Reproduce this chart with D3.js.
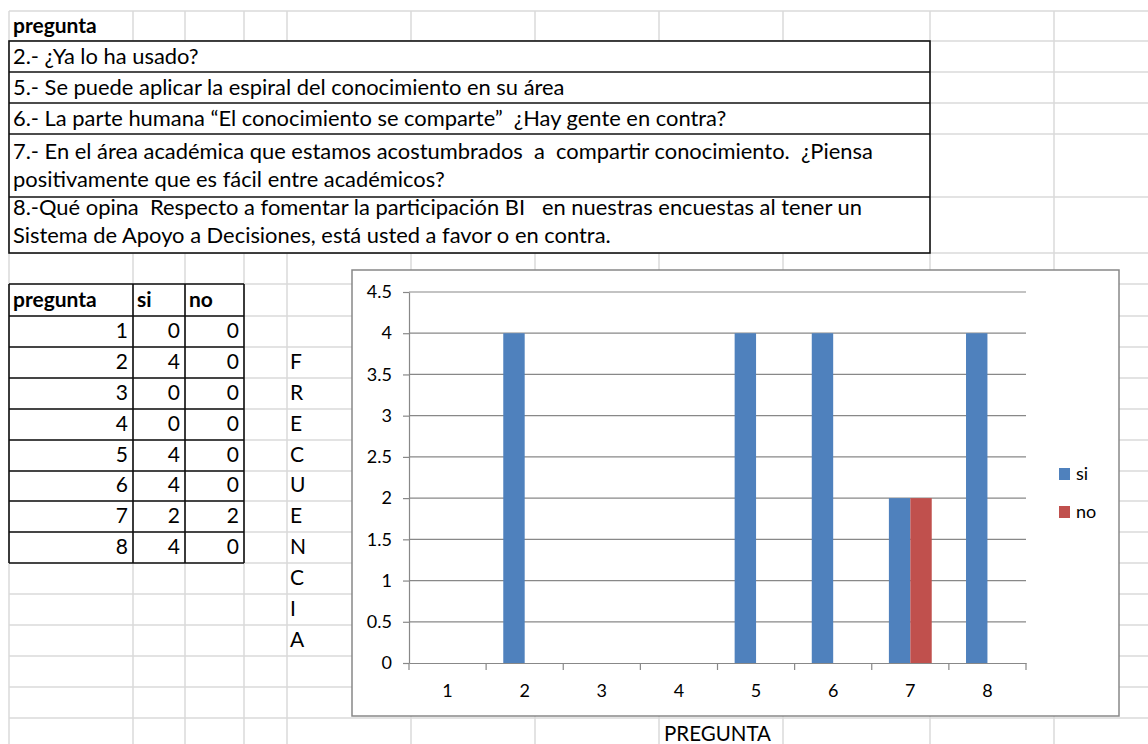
<!DOCTYPE html>
<html>
<head>
<meta charset="utf-8">
<script src="https://cdn.jsdelivr.net/npm/d3@7"></script>
<style>
  html, body { margin: 0; padding: 0; background: #fff; overflow: hidden; }
  svg { display: block; }
  text { font-family: Lato, "Open Sans", sans-serif; white-space: pre; }
</style>
</head>
<body>
<div id="sheet"></div>
<script>
// survey sheet: question list, si/no table and clustered column chart

const preguntas = [1, 2, 3, 4, 5, 6, 7, 8];
const siValues = [0, 4, 0, 0, 4, 4, 2, 4];
const noValues = [0, 0, 0, 0, 0, 0, 2, 0];
const seriesNames = ["si", "no"];
const yTickValues = [0, 0.5, 1, 1.5, 2, 2.5, 3, 3.5, 4, 4.5];
const headerLabel = "pregunta";
const questionLines = [
  ["2.- ¿Ya lo ha usado?"],
  ["5.- Se puede aplicar la espiral del conocimiento en su área"],
  ["6.- La parte humana “El conocimiento se comparte”  ¿Hay gente en contra?"],
  ["7.- En el área académica que estamos acostumbrados  a  compartir conocimiento.  ¿Piensa",
   "positivamente que es fácil entre académicos?"],
  ["8.-Qué opina  Respecto a fomentar la participación BI   en nuestras encuestas al tener un",
   "Sistema de Apoyo a Decisiones, está usted a favor o en contra."]
];
const yTitle = "FRECUENCIA";
const xTitle = "PREGUNTA";

const colors = { si: "#4f81bd", no: "#c0504d" };
const gridColor = "#dadada";
const chartLine = "#888888";

const W = 1148, H = 744;
// spreadsheet cell edges
const colX = [9, 133, 185, 244, 287, 411, 535, 659, 783, 930, 1054];
const rowY = [11, 41, 72, 103, 134, 197, 253, 284, 316, 347, 378, 409, 440,
  471, 501, 532, 563, 594, 625, 656, 687, 718, 749];

const svg = d3.select("#sheet")
  .append("svg")
  .attr("width", W)
  .attr("height", H);

svg.append("rect").attr("width", W).attr("height", H).attr("fill", "#fff");

// ---- cell grid
const grid = svg.append("g").attr("stroke", gridColor).attr("stroke-width", 1.5);
grid.selectAll(".v").data(colX).enter().append("line")
  .attr("x1", d => d).attr("x2", d => d)
  .attr("y1", rowY[0]).attr("y2", H);
grid.selectAll(".h").data(rowY).enter().append("line")
  .attr("x1", colX[0]).attr("x2", W)
  .attr("y1", d => d).attr("y2", d => d);

// ---- question table (merged rows)
const qTop = rowY[1], qBottom = rowY[6], qRight = colX[9];
svg.append("rect")
  .attr("x", colX[0]).attr("y", qTop)
  .attr("width", qRight - colX[0]).attr("height", qBottom - qTop)
  .attr("fill", "#fff").attr("stroke", "#111").attr("stroke-width", 1.6);

svg.selectAll(".qsep").data(rowY.slice(2, 6)).enter().append("line")
  .attr("x1", colX[0]).attr("x2", qRight)
  .attr("y1", d => d).attr("y2", d => d)
  .attr("stroke", "#111").attr("stroke-width", 1.6);

svg.append("text")
  .attr("x", colX[0] + 4).attr("y", rowY[1] - 8)
  .attr("font-size", 21).attr("font-weight", 700)
  .text(headerLabel);

questionLines.forEach((lines, i) => {
  const bottom = rowY[i + 2];
  const multi = lines.length > 1;
  lines.forEach((line, j) => {
    const base = multi ? bottom - 10 - (lines.length - 1 - j) * 28 : bottom - 8;
    svg.append("text")
      .attr("x", colX[0] + 4).attr("y", base)
      .attr("font-size", 21.9)
      .text(line);
  });
});

// ---- si / no table
const tCols = colX.slice(0, 4);
const tRows = rowY.slice(7, 17);
const tbl = svg.append("g").attr("stroke", "#111").attr("stroke-width", 1.6);
tbl.selectAll(".th").data(tRows).enter().append("line")
  .attr("x1", tCols[0]).attr("x2", tCols[3])
  .attr("y1", d => d).attr("y2", d => d);
tbl.selectAll(".tv").data(tCols).enter().append("line")
  .attr("x1", d => d).attr("x2", d => d)
  .attr("y1", tRows[0]).attr("y2", tRows[tRows.length - 1]);

[headerLabel, ...seriesNames].forEach((h, i) => {
  svg.append("text")
    .attr("x", tCols[i] + 4).attr("y", tRows[1] - 9)
    .attr("font-size", 21).attr("font-weight", 700)
    .text(h);
});

preguntas.forEach((p, i) => {
  const base = tRows[i + 2] - 9;
  [p, siValues[i], noValues[i]].forEach((v, c) => {
    svg.append("text")
      .attr("x", tCols[c + 1] - 5).attr("y", base)
      .attr("text-anchor", "end")
      .attr("font-size", 21)
      .text(v);
  });
});

// vertical axis title written one letter per cell
yTitle.split("").forEach((ch, i) => {
  svg.append("text")
    .attr("x", colX[4] + 3).attr("y", rowY[10 + i] - 9)
    .attr("font-size", 21)
    .text(ch);
});

svg.append("text")
  .attr("x", colX[7] + 5).attr("y", rowY[22] - 8)
  .attr("font-size", 20.5)
  .text(xTitle);

// ---- chart object
const chart = { x: 352, y: 270, w: 767, h: 446 };
const plot = { left: 409, right: 1026, top: 292, bottom: 663 };

svg.append("rect")
  .attr("x", chart.x).attr("y", chart.y)
  .attr("width", chart.w).attr("height", chart.h)
  .attr("fill", "#fff").attr("stroke", chartLine).attr("stroke-width", 1.5);

const xScale = d3.scaleBand()
  .domain(preguntas)
  .range([plot.left, plot.right])
  .padding(0);

const groupW = xScale.bandwidth() / 1.8;
const xSub = d3.scaleBand()
  .domain(seriesNames)
  .range([(xScale.bandwidth() - groupW) / 2, (xScale.bandwidth() + groupW) / 2]);

const yScale = d3.scaleLinear()
  .domain([0, d3.max(yTickValues)])
  .range([plot.bottom, plot.top]);

// horizontal gridlines
svg.append("g")
  .selectAll("line")
  .data(yTickValues.filter(v => v > 0))
  .enter().append("line")
  .attr("x1", plot.left).attr("x2", plot.right)
  .attr("y1", d => yScale(d)).attr("y2", d => yScale(d))
  .attr("stroke", chartLine).attr("stroke-width", 1.2);

// bars
const rows = preguntas.map((p, i) => ({ p: p, si: siValues[i], no: noValues[i] }));
svg.append("g")
  .selectAll("g")
  .data(rows)
  .enter().append("g")
  .attr("transform", d => `translate(${xScale(d.p)},0)`)
  .selectAll("rect")
  .data(d => seriesNames.map(s => ({ s: s, v: d[s] })))
  .enter().append("rect")
  .attr("x", d => xSub(d.s))
  .attr("width", xSub.bandwidth())
  .attr("y", d => yScale(d.v))
  .attr("height", d => yScale(0) - yScale(d.v))
  .attr("fill", d => colors[d.s]);

// y axis
const yAxis = svg.append("g")
  .attr("transform", `translate(${plot.left},0)`)
  .call(d3.axisLeft(yScale)
    .tickValues(yTickValues)
    .tickFormat(d3.format("~g"))
    .tickSize(6).tickSizeOuter(0).tickPadding(11));
yAxis.select(".domain").attr("stroke", chartLine).attr("stroke-width", 1.2);
yAxis.selectAll(".tick line").attr("stroke", chartLine).attr("stroke-width", 1.2);
yAxis.selectAll(".tick text")
  .attr("font-family", "Lato, 'Open Sans', sans-serif")
  .attr("font-size", 18).attr("fill", "#000");

// x axis: labels centred, ticks on category boundaries
const xAxis = svg.append("g")
  .attr("transform", `translate(0,${plot.bottom})`)
  .call(d3.axisBottom(xScale).tickSize(0).tickSizeOuter(0).tickPadding(21));
xAxis.select(".domain").attr("stroke", chartLine).attr("stroke-width", 1.2);
xAxis.selectAll(".tick text")
  .attr("font-family", "Lato, 'Open Sans', sans-serif")
  .attr("font-size", 18).attr("fill", "#000");

const edges = preguntas.map(p => xScale(p)).concat([xScale(preguntas[preguntas.length - 1]) + xScale.bandwidth()]);
svg.append("g")
  .selectAll("line")
  .data(edges)
  .enter().append("line")
  .attr("x1", d => d).attr("x2", d => d)
  .attr("y1", plot.bottom).attr("y2", plot.bottom + 7)
  .attr("stroke", chartLine).attr("stroke-width", 1.2);

// legend
const legend = svg.append("g").attr("transform", "translate(1059,468)");
seriesNames.forEach((s, i) => {
  legend.append("rect")
    .attr("x", 0).attr("y", i * 38)
    .attr("width", 11).attr("height", 12)
    .attr("fill", colors[s]);
  legend.append("text")
    .attr("x", 17).attr("y", i * 38 + 12)
    .attr("font-size", 18)
    .text(s);
});
</script>
</body>
</html>
